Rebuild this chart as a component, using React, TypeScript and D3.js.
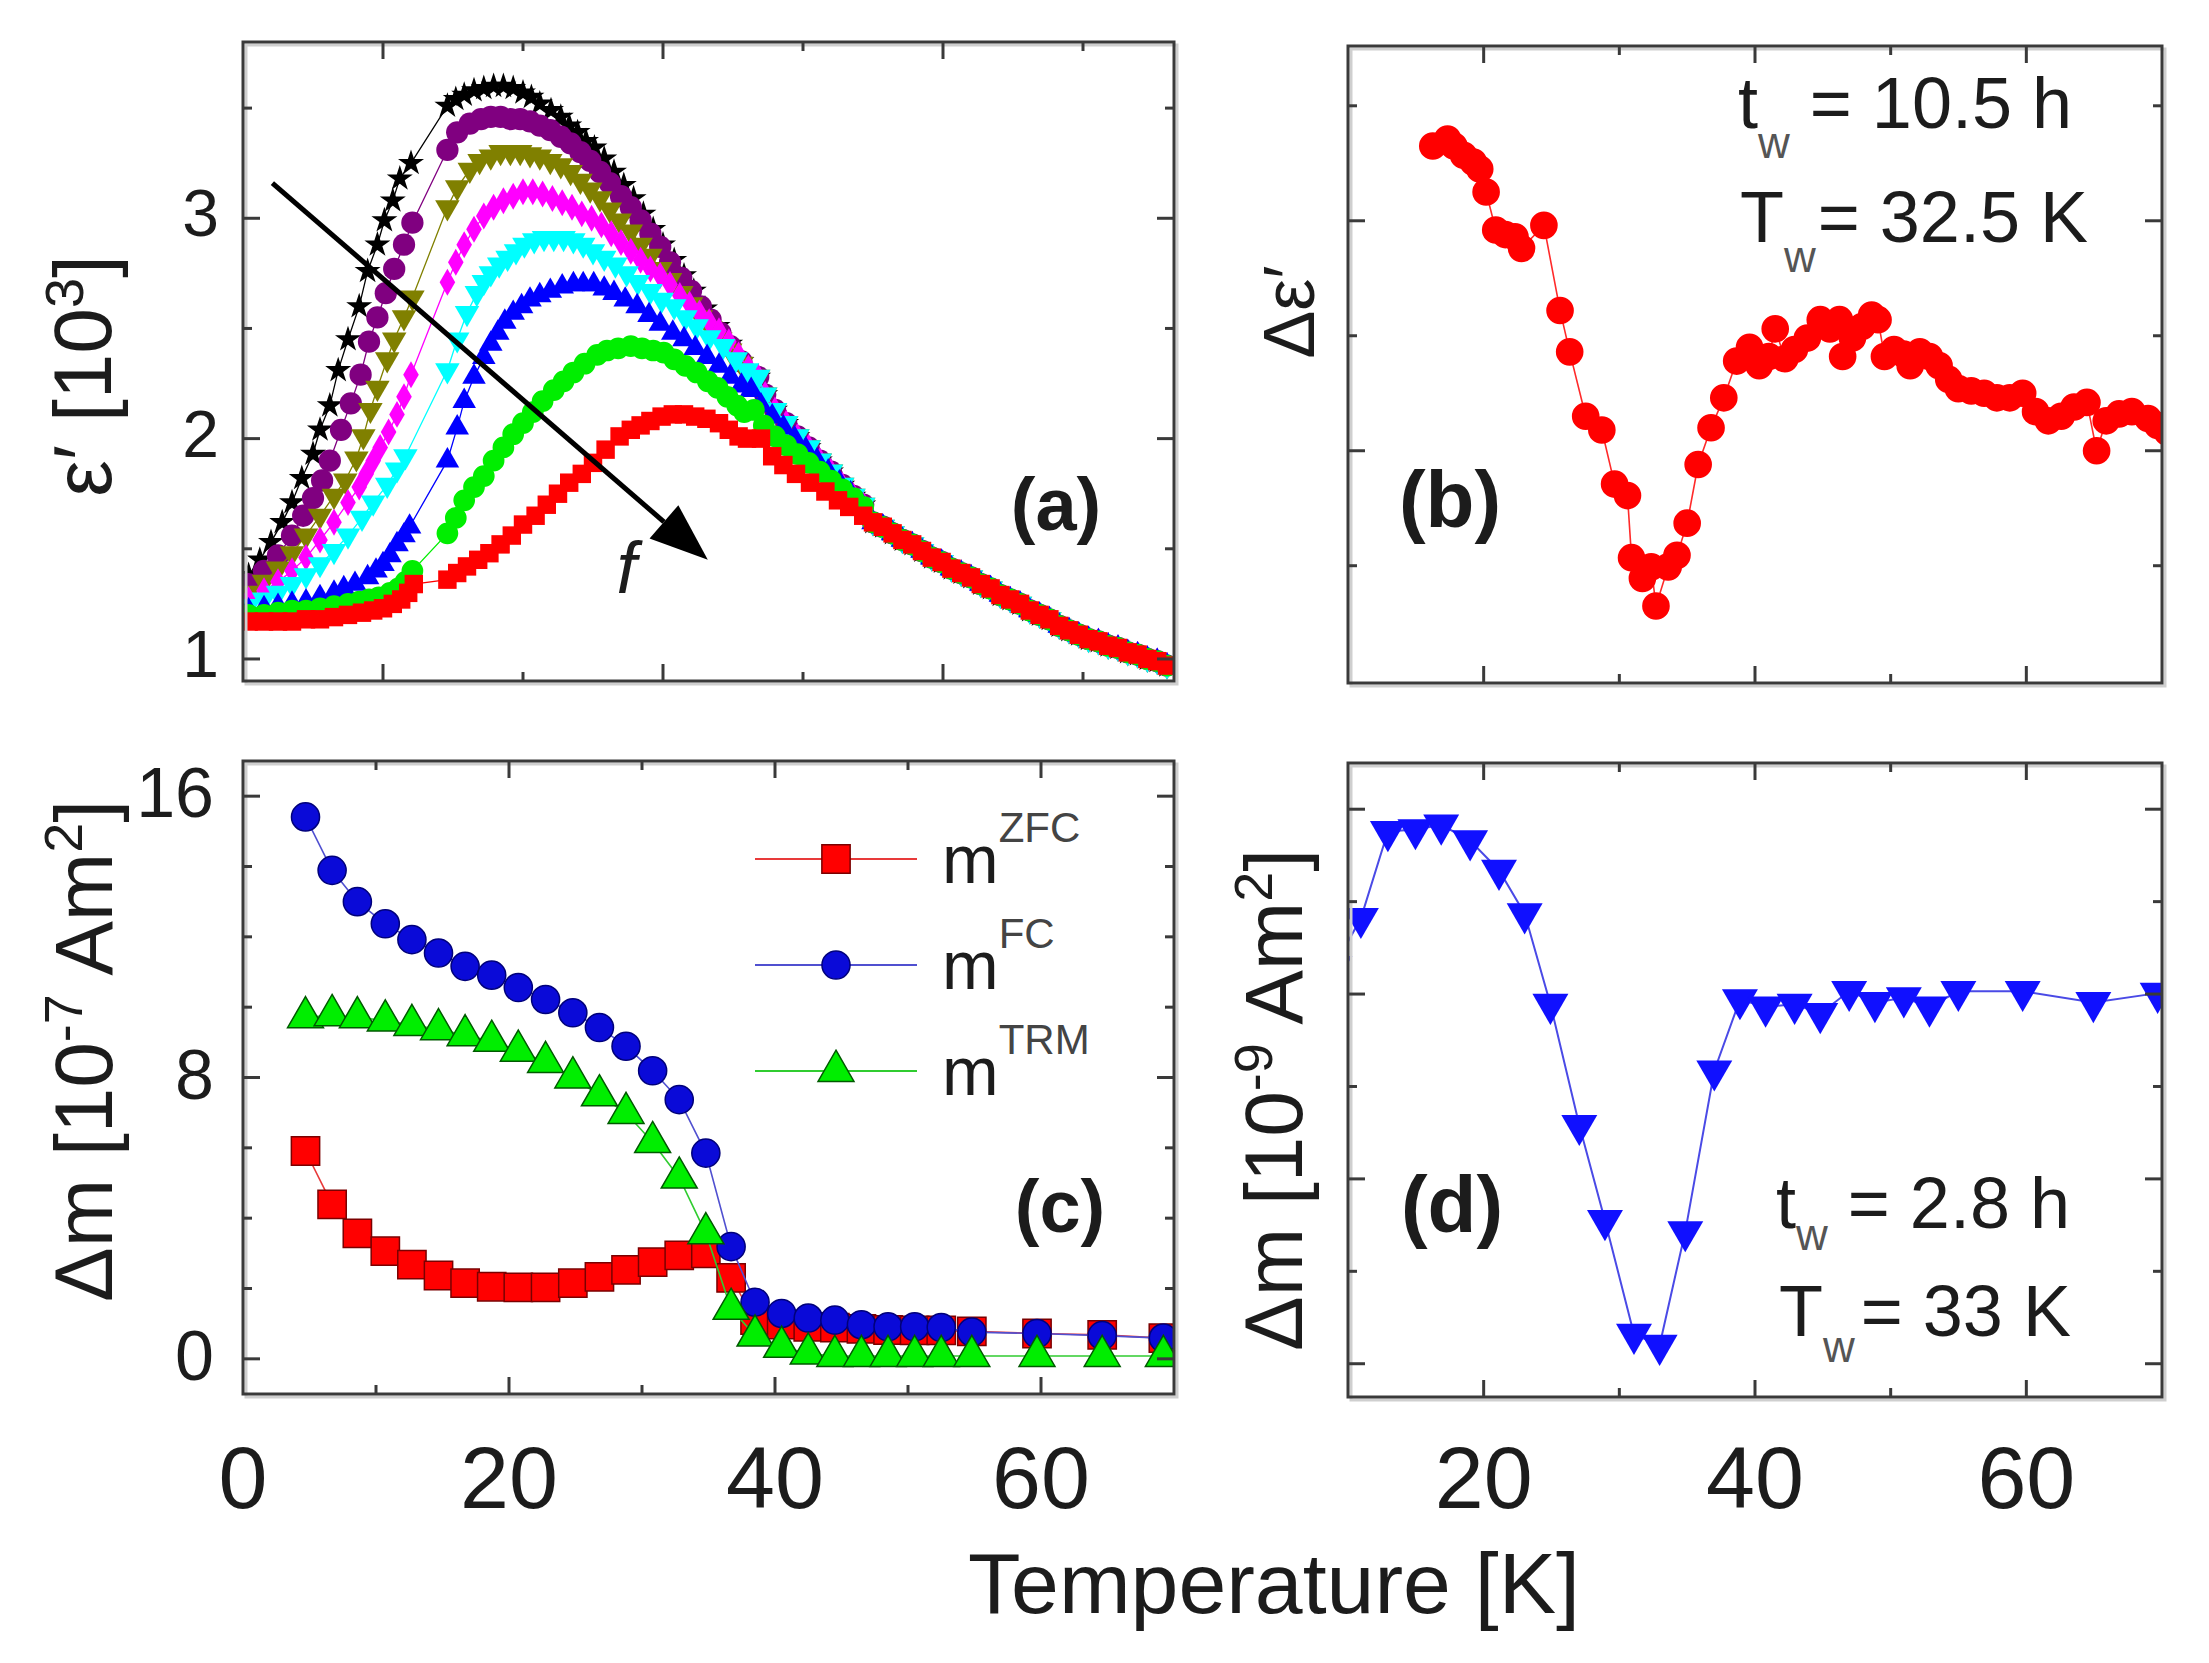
import React from 'react';
import * as d3 from 'd3';

type Pt = [number, number];

// ---------- panel (a): eps' [10^3] vs T, eight frequencies (low f -> high f)
const aBlack: Pt[] = [
  [0.4, 1.38], [1.2, 1.45], [2.0, 1.53], [2.8, 1.62], [3.5, 1.71], [4.2, 1.82], [5.0, 1.93], [5.5, 2.04], [6.2, 2.15],
  [6.8, 2.31], [7.5, 2.45], [8.3, 2.60], [8.9, 2.76], [9.6, 2.88], [10.1, 2.99], [10.7, 3.08], [11.2, 3.18], [12.0, 3.25],
  [14.6, 3.51], [15.2, 3.54], [15.8, 3.56], [16.5, 3.58], [17.2, 3.59], [17.9, 3.60], [18.6, 3.60], [19.3, 3.59], [20.0, 3.57],
  [20.6, 3.55], [21.2, 3.52], [22.0, 3.49], [22.7, 3.46], [23.3, 3.42], [23.9, 3.39], [24.5, 3.35], [25.1, 3.32], [25.8, 3.27],
  [26.5, 3.21], [27.2, 3.15], [27.9, 3.09], [28.6, 3.02], [29.3, 2.95], [30.0, 2.88], [30.8, 2.81], [31.5, 2.74], [32.2, 2.67],
  [33.0, 2.59], [33.9, 2.51], [34.8, 2.43], [35.6, 2.35], [36.3, 2.28],
];
const aPurple: Pt[] = [
  [0.4, 1.34], [1.5, 1.40], [2.5, 1.47], [3.5, 1.56], [4.3, 1.65], [5.0, 1.73], [5.65, 1.81], [6.2, 1.90], [7.0, 2.04],
  [7.7, 2.16], [8.4, 2.29], [9.0, 2.44], [9.6, 2.55], [10.2, 2.66], [10.8, 2.77], [11.5, 2.88], [12.1, 2.98],
  [14.6, 3.31], [15.3, 3.39], [16.2, 3.43], [17.0, 3.45], [17.7, 3.46], [18.4, 3.46], [19.1, 3.45], [19.8, 3.45], [20.5, 3.44],
  [21.2, 3.42], [21.95, 3.40], [22.7, 3.37], [23.4, 3.34], [24.1, 3.30], [24.8, 3.26], [25.5, 3.21], [26.2, 3.16], [27.0, 3.10],
  [27.7, 3.05], [28.4, 2.99], [29.1, 2.93], [29.8, 2.87], [30.5, 2.80], [31.3, 2.73], [32.0, 2.67], [32.7, 2.60], [33.4, 2.54],
  [34.1, 2.48], [34.8, 2.42], [35.6, 2.35], [36.3, 2.28],
];
const aOlive: Pt[] = [
  [0.4, 1.30], [1.5, 1.35], [2.5, 1.41], [3.5, 1.48], [4.5, 1.56], [5.5, 1.65], [6.5, 1.74], [7.3, 1.81], [8.1, 1.91],
  [8.6, 2.01], [9.1, 2.13], [9.6, 2.23], [10.3, 2.36], [10.8, 2.45], [11.5, 2.55], [12.1, 2.64],
  [14.6, 3.05], [15.3, 3.14], [16.2, 3.22], [16.9, 3.26], [17.7, 3.28], [18.4, 3.30], [19.1, 3.30], [19.8, 3.30], [20.5, 3.29],
  [21.2, 3.28], [21.95, 3.26], [22.7, 3.24], [23.4, 3.21], [24.1, 3.17], [24.8, 3.13], [25.5, 3.09], [26.2, 3.04], [26.9, 2.99],
  [27.7, 2.94], [28.4, 2.88], [29.1, 2.83], [29.8, 2.77], [30.5, 2.72], [31.3, 2.66], [32.0, 2.61], [32.7, 2.55], [33.4, 2.50],
  [34.1, 2.45], [34.8, 2.40], [35.6, 2.34], [36.3, 2.28],
];
const aMagenta: Pt[] = [
  [0.4, 1.27], [1.5, 1.31], [2.5, 1.35], [3.5, 1.40], [4.5, 1.46], [5.5, 1.54], [6.5, 1.62], [7.5, 1.71], [8.3, 1.78],
  [8.8, 1.84], [9.3, 1.90], [9.8, 1.96], [10.4, 2.03], [11.0, 2.11], [11.5, 2.19], [12.0, 2.29],
  [14.6, 2.71], [15.2, 2.80], [15.8, 2.88], [16.5, 2.95], [17.2, 3.01], [17.9, 3.05], [18.6, 3.08], [19.3, 3.10], [20.0, 3.12],
  [20.7, 3.12], [21.4, 3.11], [22.1, 3.09], [22.8, 3.07], [23.5, 3.05], [24.2, 3.02], [24.9, 3.00], [25.6, 2.97], [26.3, 2.93],
  [27.0, 2.89], [27.7, 2.85], [28.4, 2.81], [29.1, 2.77], [29.8, 2.74], [30.5, 2.70], [31.2, 2.65], [31.9, 2.61], [32.6, 2.57],
  [33.3, 2.53], [34.0, 2.49], [34.7, 2.44], [35.4, 2.38], [36.1, 2.32],
];
const aCyan: Pt[] = [
  [0.4, 1.24], [1.5, 1.27], [2.5, 1.30], [3.5, 1.34], [4.5, 1.38], [5.5, 1.43], [6.5, 1.49], [7.5, 1.56], [8.5, 1.64],
  [9.3, 1.71], [10.3, 1.79], [11.0, 1.86], [11.6, 1.92],
  [14.6, 2.31], [15.3, 2.45], [16.0, 2.57], [16.7, 2.66], [17.2, 2.71], [17.7, 2.75], [18.3, 2.79], [18.9, 2.82], [19.5, 2.85],
  [20.1, 2.88], [20.8, 2.90], [21.5, 2.91], [22.2, 2.91], [22.9, 2.91], [23.6, 2.90], [24.3, 2.88], [25.0, 2.85], [25.8, 2.82],
  [26.6, 2.79], [27.4, 2.75], [28.2, 2.71], [29.1, 2.67], [29.9, 2.63], [30.8, 2.60], [31.6, 2.55], [32.4, 2.51], [33.3, 2.46],
  [34.3, 2.42], [35.2, 2.36], [36.0, 2.31],
];
// shared descent of the five upper curves just above the kink at ~37 K
const aUpperKink: Pt[] = [
  [36.8, 2.28], [37.3, 2.20], [38.0, 2.13], [38.8, 2.07], [39.6, 2.01], [40.4, 1.96], [41.2, 1.90], [42.0, 1.85],
  [42.8, 1.79], [43.6, 1.74], [44.3, 1.70],
];
const aBlue: Pt[] = [
  [0.4, 1.22], [1.5, 1.23], [2.5, 1.24], [3.5, 1.25], [4.5, 1.26], [5.5, 1.28], [6.5, 1.30], [7.2, 1.32], [8.0, 1.34],
  [8.9, 1.37], [9.5, 1.40], [10.0, 1.43], [10.5, 1.47], [11.0, 1.52], [11.5, 1.56], [11.9, 1.60],
  [14.6, 1.90], [15.3, 2.05], [15.8, 2.17], [16.5, 2.28], [17.2, 2.37], [17.7, 2.43], [18.2, 2.48], [18.7, 2.53], [19.3, 2.57],
  [19.9, 2.60], [20.5, 2.63], [21.2, 2.65], [21.95, 2.67], [22.8, 2.69], [23.6, 2.70], [24.3, 2.70], [25.05, 2.70], [25.8, 2.68],
  [26.5, 2.66], [27.3, 2.63], [28.15, 2.60], [29.0, 2.56], [29.8, 2.52], [30.7, 2.48], [31.5, 2.45], [32.3, 2.41], [33.15, 2.37],
  [34.0, 2.33], [34.8, 2.28], [35.6, 2.24], [36.3, 2.22],
  [37.0, 2.15], [37.8, 2.10], [38.6, 2.05], [39.4, 2.00], [40.2, 1.95], [41.0, 1.90], [41.8, 1.85], [42.6, 1.80], [43.4, 1.75],
  [44.2, 1.70],
];
const aGreen: Pt[] = [
  [0.4, 1.20], [1.5, 1.20], [2.5, 1.21], [3.5, 1.22], [4.5, 1.22], [5.5, 1.23], [6.5, 1.24], [7.5, 1.25], [8.3, 1.26],
  [9.0, 1.27], [9.7, 1.28], [10.5, 1.30], [11.1, 1.32], [11.6, 1.35], [12.1, 1.40],
  [14.6, 1.57], [15.2, 1.64], [15.8, 1.72], [16.5, 1.78], [17.2, 1.83], [17.9, 1.90], [18.6, 1.96], [19.3, 2.02], [20.0, 2.07],
  [20.7, 2.12], [21.4, 2.17], [22.2, 2.22], [22.9, 2.26], [23.6, 2.30], [24.4, 2.34], [25.3, 2.38], [26.0, 2.40], [26.8, 2.41],
  [27.7, 2.42], [28.5, 2.41], [29.3, 2.40], [30.05, 2.39], [30.8, 2.36], [31.6, 2.33], [32.4, 2.30], [33.2, 2.26], [33.9, 2.23],
  [34.6, 2.19], [35.3, 2.15], [35.8, 2.12], [36.5, 2.13],
  [37.2, 2.06], [38.0, 2.01], [38.8, 1.97], [39.6, 1.93], [40.4, 1.89], [41.2, 1.85], [42.0, 1.81], [42.8, 1.77], [43.6, 1.73],
  [44.3, 1.69],
];
const aRed: Pt[] = [
  [0.4, 1.17], [1.5, 1.17], [2.5, 1.17], [3.5, 1.17], [4.5, 1.18], [5.5, 1.18], [6.5, 1.19], [7.5, 1.20], [8.5, 1.21],
  [9.3, 1.22], [10.0, 1.23], [10.7, 1.25], [11.3, 1.27], [11.8, 1.30], [12.2, 1.34],
  [14.6, 1.36], [15.3, 1.39], [16.0, 1.42], [16.8, 1.45], [17.6, 1.48], [18.4, 1.52], [19.2, 1.56], [20.0, 1.61], [20.9, 1.65],
  [21.7, 1.70], [22.5, 1.75], [23.3, 1.80], [24.2, 1.84], [25.0, 1.89], [25.9, 1.95], [26.9, 2.01], [27.7, 2.04], [28.4, 2.06],
  [29.1, 2.08], [29.9, 2.10], [30.7, 2.11], [31.5, 2.11], [32.3, 2.10], [33.1, 2.09], [34.0, 2.07], [34.7, 2.04], [35.4, 2.01],
  [36.0, 2.00],
  [37.0, 2.00], [37.8, 1.92], [38.6, 1.88], [39.5, 1.84], [40.5, 1.80], [41.6, 1.76], [42.5, 1.72], [43.3, 1.69], [44.3, 1.65],
];
// high-T tail where all frequencies coincide
const aTail: Pt[] = [
  [45.0, 1.62], [45.7, 1.60], [46.4, 1.57], [47.1, 1.54], [47.8, 1.52], [48.5, 1.49], [49.2, 1.46], [49.9, 1.44], [50.6, 1.41],
  [51.3, 1.39], [52.0, 1.37], [52.7, 1.34], [53.4, 1.32], [54.1, 1.29], [54.8, 1.27], [55.5, 1.25], [56.2, 1.22], [56.9, 1.20],
  [57.6, 1.18], [58.3, 1.15], [59.0, 1.13], [59.7, 1.11], [60.4, 1.09], [61.1, 1.08], [61.8, 1.06], [62.5, 1.05], [63.2, 1.03],
  [63.9, 1.02], [64.6, 1.00], [65.3, 0.99], [66.0, 0.97],
];
const arrowFrom: Pt = [2.1, 3.16];
const arrowTo: Pt = [33.2, 1.45];

// ---------- panel (b): delta eps'
const bTemp = [
  16.25, 17.34, 17.81, 18.52, 19.24, 19.71, 20.18, 20.89, 21.6, 22.31, 22.79, 24.44, 25.63, 26.34, 27.52, 28.71, 29.65, 30.6,
  30.9, 31.7, 32.35, 32.7, 33.6, 34.25, 35.0, 35.81, 36.76, 37.7, 38.65, 39.6, 40.31, 41.02, 41.49, 42.2, 42.91, 43.86, 44.81,
  45.52, 46.23, 46.46, 47.18, 47.89, 48.6, 49.07, 49.54, 50.25, 50.96, 51.44, 52.15, 52.86, 53.57, 54.28, 54.99, 55.94, 56.89,
  57.83, 58.78, 59.73, 60.68, 61.62, 62.57, 63.52, 64.47, 65.18, 65.89, 66.84, 67.78, 68.97, 69.68, 70.4,
];
const bDelta = [
  4.65, 4.71, 4.65, 4.57, 4.51, 4.45, 4.25, 3.92, 3.88, 3.86, 3.76, 3.96, 3.22, 2.86, 2.30, 2.18, 1.71, 1.61,
  1.07, 0.89, 0.99, 0.65, 0.99, 1.09, 1.37, 1.88, 2.20, 2.46, 2.78, 2.90, 2.74, 2.82, 3.06, 2.80, 2.88, 2.98, 3.14,
  3.06, 3.14, 2.82, 2.98, 3.08, 3.18, 3.14, 2.82, 2.88, 2.84, 2.74, 2.86, 2.82, 2.74, 2.62, 2.54, 2.52, 2.50,
  2.46, 2.46, 2.50, 2.34, 2.26, 2.30, 2.38, 2.42, 2.00, 2.26, 2.32, 2.34, 2.28, 2.22, 2.16,
];

// ---------- panel (c): delta m [1e-7 Am^2]
const cTemp = [
  4.7, 6.7, 8.6, 10.7, 12.7, 14.7, 16.7, 18.7, 20.7, 22.75, 24.8, 26.8, 28.8, 30.8, 32.8, 34.8, 36.7, 38.5, 40.5, 42.5,
  44.5, 46.5, 48.5, 50.5, 52.5, 54.8, 59.7, 64.6, 69.2,
];
const cZFC = [
  5.91, 4.39, 3.57, 3.06, 2.68, 2.37, 2.15, 2.05, 2.03, 2.03, 2.15, 2.33, 2.53, 2.75, 2.94, 3.0, 2.3, 1.1, 0.97, 0.91,
  0.89, 0.85, 0.82, 0.81, 0.81, 0.78, 0.72, 0.68, 0.59,
];
const cFC = [
  15.41, 13.89, 13.0, 12.37, 11.92, 11.54, 11.16, 10.91, 10.56, 10.22, 9.84, 9.42, 8.89, 8.19, 7.37, 5.85, 3.19, 1.61, 1.29, 1.16,
  1.10, 0.97, 0.91, 0.91, 0.89, 0.76, 0.72, 0.66, 0.59,
];
const cTRM = [
  9.71, 9.77, 9.71, 9.62, 9.49, 9.37, 9.2, 9.04, 8.76, 8.44, 8.0, 7.49, 6.99, 6.16, 5.15, 3.57, 1.42, 0.66, 0.34, 0.15,
  0.08, 0.08, 0.08, 0.08, 0.08, 0.08, 0.08, 0.08, 0.08,
];
const cLegend = ['ZFC', 'FC', 'TRM'];

// ---------- panel (d): delta m [1e-9 Am^2]
const dTemp = [
  9.0, 10.95, 12.94, 14.97, 16.87, 19.0, 21.13, 23.02, 24.92, 27.05, 28.94, 31.08, 32.97, 34.86, 37.0, 38.89, 40.78, 42.92,
  44.81, 46.94, 48.84, 50.97, 52.86, 54.99, 59.73, 64.94, 69.68,
];
const dDelta = [
  4.3, 4.82, 5.76, 5.78, 5.83, 5.66, 5.34, 4.87, 3.89, 2.58, 1.55, 0.32, 0.2, 1.43, 3.17, 3.94, 3.86, 3.89,
  3.79, 4.03, 3.91, 3.96, 3.86, 4.03, 4.03, 3.91, 4.01,
];

// ---------- ticks
const xTicksA = [10, 20, 30, 40, 50, 60];
const xMajorA = [10, 30, 50];
const yTicksA = [1, 1.5, 2, 2.5, 3, 3.5];
const yMajorA = [1, 2, 3];
const xTicksBD = [20, 30, 40, 50, 60];
const xMajorBD = [20, 40, 60];
const yTicksB = [1, 2, 3, 4, 5];
const yMajorB = [2, 4];
const xTicksC = [10, 20, 30, 40, 50, 60];
const xMajorC = [20, 40, 60];
const yTicksC = [0, 2, 4, 6, 8, 10, 12, 14, 16];
const yMajorC = [0, 8, 16];
const yTicksD = [0, 1, 2, 3, 4, 5, 6];
const yMajorD = [0, 2, 4, 6];
const xLabelsC = [0, 20, 40, 60];
const xLabelsD = [20, 40, 60];

const W = 2209;
const H = 1663;
const FONT = "'Liberation Sans', Arial, Helvetica, sans-serif";
const INK = '#1c1c1c';

const boxA = { x0: 243, x1: 1174, y0: 42, y1: 681 };
const boxB = { x0: 1348, x1: 2162, y0: 46, y1: 683 };
const boxC = { x0: 243, x1: 1174, y0: 761, y1: 1394 };
const boxD = { x0: 1348, x1: 2162, y0: 763, y1: 1397 };

const xA = d3.scaleLinear().domain([0, 66.5]).range([boxA.x0, boxA.x1]);
const yA = d3.scaleLinear().domain([0.9, 3.8]).range([boxA.y1, boxA.y0]);
const xB = d3.scaleLinear().domain([10, 70]).range([boxB.x0, boxB.x1]);
const yB = d3.scaleLinear().domain([-0.02, 5.52]).range([boxB.y1, boxB.y0]);
const xC = d3.scaleLinear().domain([0, 70]).range([boxC.x0, boxC.x1]);
const yC = d3.scaleLinear().domain([-1, 17]).range([boxC.y1, boxC.y0]);
const xD = d3.scaleLinear().domain([10, 70]).range([boxD.x0, boxD.x1]);
const yD = d3.scaleLinear().domain([-0.36, 6.5]).range([boxD.y1, boxD.y0]);

const symbolTypes: Record<string, any> = {
  star: d3.symbolStar,
  circle: d3.symbolCircle,
  square: d3.symbolSquare,
  diamond: d3.symbolDiamond,
  triUp: d3.symbolTriangle,
  triDown: d3.symbolTriangle,
};

function symbolPath(kind: string, size: number) {
  return d3.symbol().type(symbolTypes[kind]).size(size)() as string;
}

function Series({ pts, x, y, fill, line, lineWidth = 1.5, kind, size, stroke = 'none', sw = 0 }: any) {
  const gen = d3.line<Pt>().x((p) => x(p[0])).y((p) => y(p[1]));
  const d = symbolPath(kind, size);
  const rot = kind === 'triDown' ? ' rotate(180)' : '';
  return (
    <g>
      <path d={gen(pts) as string} fill="none" stroke={line} strokeWidth={lineWidth} />
      <g fill={fill} stroke={stroke} strokeWidth={sw}>
        {pts.map((p: Pt, i: number) => (
          <path key={i} d={d} transform={`translate(${x(p[0])},${y(p[1])})${rot}`} />
        ))}
      </g>
    </g>
  );
}

function Frame({ box, x, y, xTicks, xMajor, yTicks, yMajor }: any) {
  const len = (major: boolean) => (major ? 17 : 9);
  const w = box.x1 - box.x0;
  const h = box.y1 - box.y0;
  return (
    <g>
      <rect x={box.x0 + 3} y={box.y0 + 3} width={w} height={h} fill="none" stroke="#cfcfcf" strokeWidth={3} />
      <g stroke="#3a3a3a" strokeWidth={3}>
        {xTicks.map((t: number) => {
          const px = x(t);
          const L = len(xMajor.includes(t));
          return (
            <g key={'x' + t}>
              <line x1={px} x2={px} y1={box.y1} y2={box.y1 - L} />
              <line x1={px} x2={px} y1={box.y0} y2={box.y0 + L} />
            </g>
          );
        })}
        {yTicks.map((t: number) => {
          const py = y(t);
          const L = len(yMajor.includes(t));
          return (
            <g key={'y' + t}>
              <line x1={box.x0} x2={box.x0 + L} y1={py} y2={py} />
              <line x1={box.x1} x2={box.x1 - L} y1={py} y2={py} />
            </g>
          );
        })}
      </g>
      <rect x={box.x0} y={box.y0} width={w} height={h} fill="none" stroke="#3a3a3a" strokeWidth={3} />
    </g>
  );
}

function Clip({ id, box }: any) {
  return (
    <clipPath id={id}>
      <rect x={box.x0} y={box.y0} width={box.x1 - box.x0} height={box.y1 - box.y0} />
    </clipPath>
  );
}

const seriesA = [
  { pts: [...aBlack, ...aUpperKink, ...aTail], fill: '#000000', kind: 'star', size: 210 },
  { pts: [...aPurple, ...aUpperKink, ...aTail], fill: '#800080', kind: 'circle', size: 390 },
  { pts: [...aOlive, ...aUpperKink, ...aTail], fill: '#808000', kind: 'triDown', size: 260 },
  { pts: [...aMagenta, ...aUpperKink, ...aTail], fill: '#ff00ff', kind: 'diamond', size: 210 },
  { pts: [...aCyan, ...aUpperKink, ...aTail], fill: '#00ffff', kind: 'triDown', size: 260 },
  { pts: [...aBlue, ...aTail], fill: '#0000ff', kind: 'triUp', size: 240 },
  { pts: [...aGreen, ...aTail], fill: '#00ee00', kind: 'circle', size: 370 },
  { pts: [...aRed, ...aTail], fill: '#ff0000', kind: 'square', size: 340 },
];

function Arrow() {
  const x1 = xA(arrowFrom[0]);
  const y1 = yA(arrowFrom[1]);
  const x2 = xA(arrowTo[0]);
  const y2 = yA(arrowTo[1]);
  const ang = Math.atan2(y2 - y1, x2 - x1);
  const headL = 58;
  const headW = 22;
  const bx = x2 - headL * Math.cos(ang);
  const by = y2 - headL * Math.sin(ang);
  const nx = -Math.sin(ang) * headW;
  const ny = Math.cos(ang) * headW;
  return (
    <g>
      <line x1={x1} y1={y1} x2={bx} y2={by} stroke="#000" strokeWidth={5} />
      <polygon points={`${x2},${y2} ${bx + nx},${by + ny} ${bx - nx},${by - ny}`} fill="#000" />
    </g>
  );
}

export default function App() {
  const bPts: Pt[] = bTemp.map((t, i) => [t, bDelta[i]]);
  const dPts: Pt[] = dTemp.map((t, i) => [t, dDelta[i]]);
  const zfc: Pt[] = cTemp.map((t, i) => [t, cZFC[i]]);
  const fc: Pt[] = cTemp.map((t, i) => [t, cFC[i]]);
  const trm: Pt[] = cTemp.map((t, i) => [t, cTRM[i]]);

  const legendStyles = [
    { kind: 'square', size: 800, fill: '#ff0000', stroke: '#7a0000', line: '#e83a3a' },
    { kind: 'circle', size: 620, fill: '#0a0ad8', stroke: '#00007a', line: '#5050d0' },
    { kind: 'triUp', size: 560, fill: '#00ee00', stroke: '#005a00', line: '#30cc30' },
  ];
  const legX = 755;
  const legW = 162;
  const legY0 = 859;
  const legDY = 106;

  return (
    <svg width={W} height={H} style={{ position: 'absolute', left: 0, top: 0, background: '#fff' }} fontFamily={FONT}>
      <defs>
        <Clip id="clipA" box={boxA} />
        <Clip id="clipB" box={boxB} />
        <Clip id="clipC" box={boxC} />
        <Clip id="clipD" box={boxD} />
      </defs>
      <rect x={0} y={0} width={W} height={H} fill="#fff" />

      {/* panel (a) */}
      <g clipPath="url(#clipA)">
        {seriesA.map((s, i) => (
          <Series key={i} pts={s.pts} x={xA} y={yA} fill={s.fill} line={s.fill} lineWidth={1.3} kind={s.kind} size={s.size} />
        ))}
        <Arrow />
      </g>
      <Frame box={boxA} x={xA} y={yA} xTicks={xTicksA} xMajor={xMajorA} yTicks={yTicksA} yMajor={yMajorA} />
      <g fontSize={66} fill={INK} textAnchor="end">
        {yMajorA.map((t) => (
          <text key={t} x={boxA.x0 - 24} y={yA(t) + 18}>{t}</text>
        ))}
      </g>
      <text transform={`translate(111,376) rotate(-90)`} textAnchor="middle" fontSize={82} fill={INK}>
        ε′ [10<tspan dy={-28} fontSize={54}>3</tspan><tspan dy={28}>]</tspan>
      </text>
      <text x={xA(27.4)} y={yA(1.3)} fontSize={72} fontStyle="italic" textAnchor="middle" fill={INK}>f</text>
      <text x={1056} y={530} fontSize={74} fontWeight="bold" textAnchor="middle" fill={INK}>(a)</text>

      {/* panel (b) */}
      <g clipPath="url(#clipB)">
        <Series pts={bPts} x={xB} y={yB} fill="#ff0000" line="#ff2a2a" lineWidth={1.6} kind="circle" size={600} />
      </g>
      <Frame box={boxB} x={xB} y={yB} xTicks={xTicksBD} xMajor={xMajorBD} yTicks={yTicksB} yMajor={yMajorB} />
      <text transform={`translate(1314,312) rotate(-90)`} textAnchor="middle" fontSize={72} fill={INK}>Δε′</text>
      <text x={1450} y={527} fontSize={80} fontWeight="bold" textAnchor="middle" fill={INK}>(b)</text>
      <g fontSize={72} fill={INK}>
        <text x={1738} y={128}>
          t<tspan dy={30} fontSize={44} fill="#555">w</tspan><tspan dy={-30}> = 10.5 h</tspan>
        </text>
        <text x={1740} y={242}>
          T<tspan dy={30} fontSize={44} fill="#555">w</tspan><tspan dy={-30} dx={2}>= 32.5 K</tspan>
        </text>
      </g>

      {/* panel (c) */}
      <g clipPath="url(#clipC)">
        <Series pts={zfc} x={xC} y={yC} fill="#ff0000" stroke="#7a0000" sw={1.5} line="#e83a3a" lineWidth={1.6} kind="square" size={800} />
        <Series pts={fc} x={xC} y={yC} fill="#0a0ad8" stroke="#00007a" sw={1.5} line="#5050d0" lineWidth={1.6} kind="circle" size={620} />
        <Series pts={trm} x={xC} y={yC} fill="#00ee00" stroke="#005a00" sw={1.5} line="#30cc30" lineWidth={1.6} kind="triUp" size={560} />
      </g>
      <Frame box={boxC} x={xC} y={yC} xTicks={xTicksC} xMajor={xMajorC} yTicks={yTicksC} yMajor={yMajorC} />
      <g fontSize={70} fill={INK} textAnchor="end">
        {yMajorC.map((t) => (
          <text key={t} x={boxC.x0 - 29} y={yC(t) + 21}>{t}</text>
        ))}
      </g>
      <text transform={`translate(112,1051) rotate(-90)`} textAnchor="middle" fontSize={82} fill={INK}>
        Δm [10<tspan dy={-30} fontSize={54}>-7</tspan><tspan dy={30}> Am</tspan><tspan dy={-30} fontSize={54}>2</tspan><tspan dy={30}>]</tspan>
      </text>
      {cLegend.map((lab, i) => {
        const st = legendStyles[i];
        const ly = legY0 + i * legDY;
        return (
          <g key={lab}>
            <line x1={legX} x2={legX + legW} y1={ly} y2={ly} stroke={st.line} strokeWidth={2} />
            <path d={symbolPath(st.kind, st.size)} transform={`translate(${legX + legW / 2},${ly})`} fill={st.fill} stroke={st.stroke} strokeWidth={1.5} />
            <text x={legX + legW + 25} y={ly + 24} fontSize={68} fill={INK}>
              m<tspan dy={-41} fontSize={42} fill="#444">{lab}</tspan>
            </text>
          </g>
        );
      })}
      <text x={1060} y={1232} fontSize={74} fontWeight="bold" textAnchor="middle" fill={INK}>(c)</text>

      {/* panel (d) */}
      <g clipPath="url(#clipD)">
        <Series pts={dPts} x={xD} y={yD} fill="#1010ff" line="#4a4ae6" lineWidth={2} kind="triDown" size={560} />
      </g>
      <Frame box={boxD} x={xD} y={yD} xTicks={xTicksBD} xMajor={xMajorBD} yTicks={yTicksD} yMajor={yMajorD} />
      <text transform={`translate(1302,1100) rotate(-90)`} textAnchor="middle" fontSize={82} fill={INK}>
        Δm [10<tspan dy={-30} fontSize={54}>-9</tspan><tspan dy={30}> Am</tspan><tspan dy={-30} fontSize={54}>2</tspan><tspan dy={30}>]</tspan>
      </text>
      <text x={1452} y={1232} fontSize={80} fontWeight="bold" textAnchor="middle" fill={INK}>(d)</text>
      <g fontSize={72} fill={INK}>
        <text x={1776} y={1228}>
          t<tspan dy={22} fontSize={44} fill="#555">w</tspan><tspan dy={-22}> = 2.8 h</tspan>
        </text>
        <text x={1779} y={1336}>
          T<tspan dy={26} fontSize={44} fill="#555">w</tspan><tspan dy={-26} dx={6}>= 33 K</tspan>
        </text>
      </g>

      {/* shared x labels */}
      <g fontSize={88} fill={INK} textAnchor="middle">
        {xLabelsC.map((t) => (
          <text key={'c' + t} x={xC(t)} y={1508}>{t}</text>
        ))}
        {xLabelsD.map((t) => (
          <text key={'d' + t} x={xD(t)} y={1508}>{t}</text>
        ))}
      </g>
      <text x={1274} y={1613} fontSize={86} textAnchor="middle" fill={INK}>Temperature [K]</text>
    </svg>
  );
}
